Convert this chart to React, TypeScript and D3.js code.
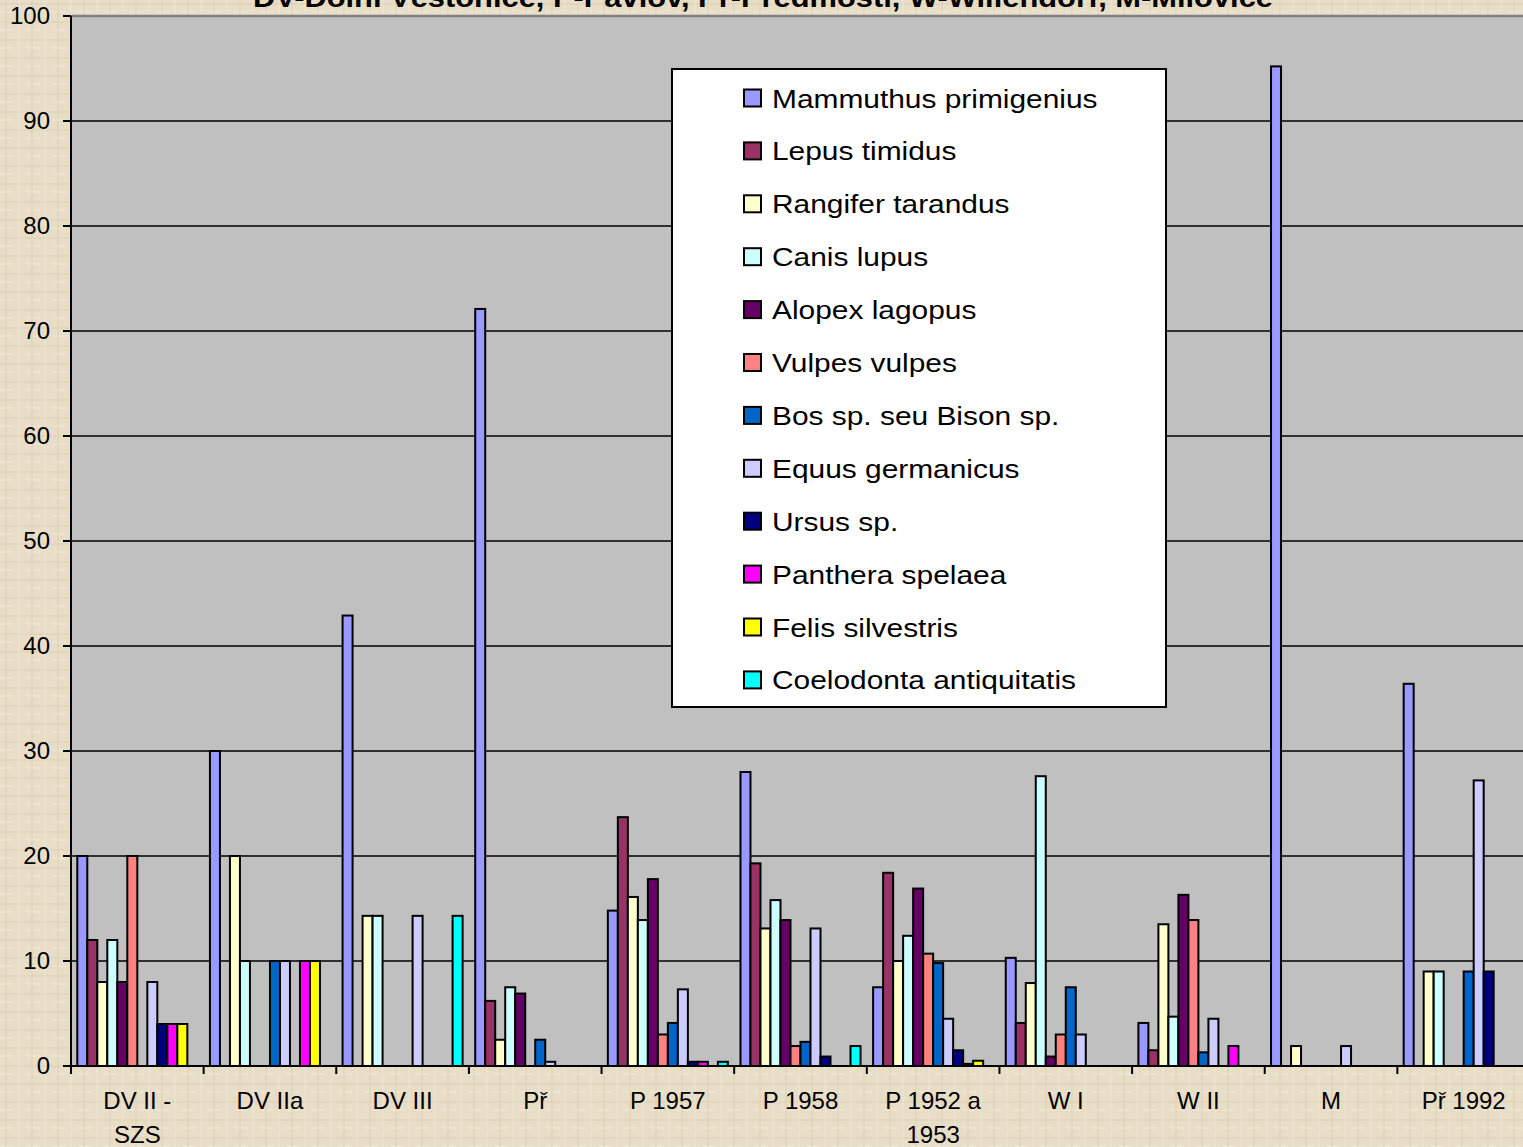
import React from "react";
import * as d3 from "d3";

const title = "DV-Dolní Věstonice, P-Pavlov, Př-Předmostí, W-Willendorf, M-Milovice";

const categories = ["DV II - SZS", "DV IIa", "DV III", "Př", "P 1957", "P 1958", "P 1952 a 1953", "W I", "W II", "M", "Př 1992"];
const categoryLines = [["DV II -", "SZS"], ["DV IIa"], ["DV III"], ["Př"], ["P 1957"], ["P 1958"], ["P 1952 a", "1953"], ["W I"], ["W II"], ["M"], ["Př 1992"]];

const seriesNames = [
  "Mammuthus primigenius", "Lepus timidus", "Rangifer tarandus", "Canis lupus",
  "Alopex lagopus", "Vulpes vulpes", "Bos sp. seu Bison sp.", "Equus germanicus",
  "Ursus sp.", "Panthera spelaea", "Felis silvestris", "Coelodonta antiquitatis",
];
const seriesColors = ["#9999FF", "#993366", "#FFFFCC", "#CCFFFF", "#660066", "#FF8080", "#0066CC", "#CCCCFF", "#000080", "#FF00FF", "#FFFF00", "#00FFFF"];

const mammuthus = [20, 30, 42.9, 72.1, 14.8, 28.0, 7.5, 10.3, 4.1, 95.2, 36.4];
const lepus = [12, 0, 0, 6.2, 23.7, 19.3, 18.4, 4.1, 1.5, 0, 0];
const rangifer = [8, 20, 14.3, 2.5, 16.1, 13.1, 10.0, 7.9, 13.5, 1.9, 9.0];
const canis = [12, 10, 14.3, 7.5, 13.9, 15.8, 12.4, 27.6, 4.7, 0, 9.0];
const alopex = [8, 0, 0, 6.9, 17.8, 13.9, 16.9, 0.9, 16.3, 0, 0];
const vulpes = [20, 0, 0, 0, 3.0, 1.9, 10.7, 3.0, 13.9, 0, 0];
const bos = [0, 10, 0, 2.5, 4.1, 2.3, 9.8, 7.5, 1.3, 0, 9.0];
const equus = [8, 10, 14.3, 0.4, 7.3, 13.1, 4.5, 3.0, 4.5, 1.9, 27.2];
const ursus = [4, 0, 0, 0, 0.4, 0.9, 1.5, 0, 0, 0, 9.0];
const panthera = [4, 10, 0, 0, 0.4, 0, 0.2, 0, 1.9, 0, 0];
const felis = [4, 10, 0, 0, 0, 0, 0.5, 0, 0, 0, 0];
const coelodonta = [0, 0, 14.3, 0, 0.4, 1.9, 0, 0, 0, 0, 0];

const seriesValues = [mammuthus, lepus, rangifer, canis, alopex, vulpes, bos, equus, ursus, panthera, felis, coelodonta];

const yTicks = [0, 10, 20, 30, 40, 50, 60, 70, 80, 90, 100];

const W = 1523;
const H = 1147;
const plotLeft = 71;
const plotRight = 1530;
const plotTop = 16;
const plotBottom = 1066;
const FONT = "'Liberation Sans', Arial, sans-serif";

export default function App() {
  const x0 = d3.scaleBand<string>().domain(categories).range([plotLeft, plotRight]).paddingInner(0).paddingOuter(0);
  const x1 = d3.scaleBand<string>().domain(seriesNames).range([0, x0.bandwidth()]).paddingInner(0).paddingOuter(0.63);
  const y = d3.scaleLinear().domain([0, 100]).range([plotBottom, plotTop]);

  const legendX = 672, legendY = 69, legendW = 494, legendH = 638;
  const rowStep = 52.9;

  return (
    <svg width={W} height={H} style={{ position: "absolute", left: 0, top: 0, display: "block" }} fontFamily={FONT}>
      <defs>
        <pattern id="paper" width="26" height="18" patternUnits="userSpaceOnUse">
          <rect width="26" height="18" fill="#E8DEC8" />
          <line x1="0" y1="4" x2="26" y2="4" stroke="#DDD0B4" strokeWidth="1" />
          <line x1="0" y1="12" x2="14" y2="12" stroke="#F1E9D8" strokeWidth="1" />
          <line x1="6" y1="0" x2="6" y2="18" stroke="#DCCFB3" strokeWidth="1" />
          <line x1="19" y1="0" x2="19" y2="18" stroke="#EFE6D3" strokeWidth="1" />
        </pattern>
      </defs>
      <rect x={0} y={0} width={W} height={H} fill="url(#paper)" />

      <text x={763} y={7} textAnchor="middle" fontWeight="bold" fontSize={28} textLength={1020} lengthAdjust="spacingAndGlyphs" fill="#000">{title}</text>

      <rect x={plotLeft} y={plotTop} width={plotRight - plotLeft} height={plotBottom - plotTop} fill="#C0C0C0" />

      {yTicks.filter(t => t > 0 && t < 100).map(t => (
        <line key={"g" + t} x1={plotLeft} x2={plotRight} y1={y(t)} y2={y(t)} stroke="#000" strokeWidth={1.6} />
      ))}
      <line x1={plotLeft} x2={plotRight} y1={y(100)} y2={y(100)} stroke="#808080" strokeWidth={2.5} />

      {categories.map((c, ci) => (
        <g key={c}>
          {seriesNames.map((s, si) => {
            const v = seriesValues[si][ci];
            if (!v) return null;
            const bx = (x0(c) as number) + (x1(s) as number);
            return (
              <rect key={s} x={bx} y={y(v)} width={x1.bandwidth()} height={y(0) - y(v)}
                fill={seriesColors[si]} stroke="#000" strokeWidth={2} />
            );
          })}
        </g>
      ))}

      <line x1={plotLeft} x2={plotLeft} y1={plotTop} y2={plotBottom + 1} stroke="#000" strokeWidth={2} />
      <line x1={plotLeft - 8} x2={plotRight} y1={plotBottom} y2={plotBottom} stroke="#000" strokeWidth={2} />

      {yTicks.map(t => (
        <g key={"t" + t}>
          <line x1={plotLeft - 8} x2={plotLeft} y1={y(t)} y2={y(t)} stroke="#000" strokeWidth={2} />
          <text x={50} y={y(t) + 8} textAnchor="end" fontSize={24} fill="#000">{t}</text>
        </g>
      ))}

      {categories.map((c, ci) => (
        <g key={"x" + c}>
          <line x1={x0(c) as number} x2={x0(c) as number} y1={plotBottom} y2={plotBottom + 8} stroke="#000" strokeWidth={2} />
          {categoryLines[ci].map((ln, li) => (
            <text key={li} x={(x0(c) as number) + x0.bandwidth() / 2} y={1109 + li * 34} textAnchor="middle" fontSize={24} fill="#000">{ln}</text>
          ))}
        </g>
      ))}

      <rect x={legendX} y={legendY} width={legendW} height={legendH} fill="#FFFFFF" stroke="#000" strokeWidth={2} />
      {seriesNames.map((s, si) => {
        const cy = 98 + si * rowStep;
        return (
          <g key={"l" + s}>
            <rect x={744} y={cy - 8.5} width={17} height={17} fill={seriesColors[si]} stroke="#000" strokeWidth={2} />
            <text transform={`translate(772,${cy + 9.5}) scale(1.15,1)`} fontSize={26} fill="#000">{s}</text>
          </g>
        );
      })}
    </svg>
  );
}
